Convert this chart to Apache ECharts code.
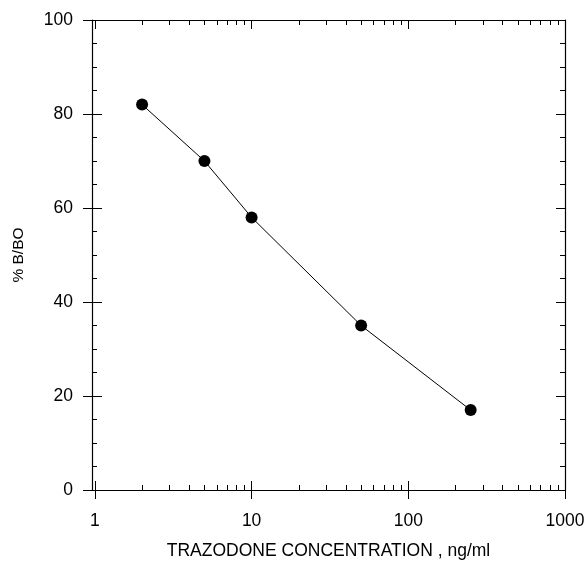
<!DOCTYPE html>
<html><head><meta charset="utf-8">
<script src="https://cdn.jsdelivr.net/npm/echarts@6/dist/echarts.min.js"></script>
<style>html,body{margin:0;padding:0;background:#fff}#c{width:587px;height:561px}</style>
</head><body><div id="c"></div>
<script>
const concentrations = [2, 5, 10, 50, 250];
const percentBBo = [82, 70, 58, 35, 17];
const xMajorTicks = [1, 10, 100, 1000];
const xMinorTicks = [2,3,4,5,6,7,8,9,20,30,40,50,60,70,80,90,200,300,400,500,600,700,800,900];

const FONT = 'Liberation Sans, Arial, sans-serif';
const XMIN = 0.958, XMAX = 1000;
const line = {show:true, lineStyle:{color:'#000', width:1.2}};
function xAx(o){
  return Object.assign({type:'log', logBase:10, min:XMIN, max:XMAX, position:'bottom',
    axisLine:{show:false}, splitLine:{show:false}, axisLabel:{show:false},
    axisTick:{show:false}}, o);
}
function yAx(o){
  return Object.assign({type:'value', min:0, max:100, interval:20, position:'left',
    axisLine:{show:false}, splitLine:{show:false}, axisLabel:{show:false},
    axisTick:{show:false}, minorTick:{show:false}}, o);
}
const chart = echarts.init(document.getElementById('c'));
chart.setOption({
  animation:false,
  backgroundColor:'#fff',
  grid:{left:92, right:22, top:20, bottom:71, containLabel:false, outerBoundsMode:'none'},
  xAxis:[
    xAx({axisLine:line,
      axisTick:{show:true, inside:false, length:9, customValues:xMajorTicks, lineStyle:{color:'#000',width:1}},
      axisLabel:{show:true, customValues:xMajorTicks, margin:22, color:'#000', fontSize:17.5, fontFamily:FONT,
        formatter:v=>String(Math.round(v))},
      name:'TRAZODONE CONCENTRATION , ng/ml', nameLocation:'middle', nameGap:52,
      nameTextStyle:{color:'#000', fontSize:17.5, fontFamily:FONT}}),
    xAx({axisTick:{show:true, inside:true, length:9, customValues:xMajorTicks, lineStyle:{color:'#000',width:1}}}),
    xAx({axisTick:{show:true, inside:true, length:5, customValues:xMinorTicks, lineStyle:{color:'#000',width:1}}}),
    xAx({position:'top', axisLine:line,
      axisTick:{show:true, inside:true, length:9, customValues:xMajorTicks, lineStyle:{color:'#000',width:1}}}),
    xAx({position:'top',
      axisTick:{show:true, inside:true, length:5, customValues:xMinorTicks, lineStyle:{color:'#000',width:1}}})
  ],
  yAxis:[
    yAx({axisLine:line,
      axisTick:{show:true, inside:false, length:9, lineStyle:{color:'#000',width:1}},
      axisLabel:{show:true, margin:19, color:'#000', fontSize:17.5, fontFamily:FONT},
      name:'% B/BO', nameLocation:'middle', nameGap:65, nameRotate:90,
      nameTextStyle:{color:'#000', fontSize:15.5, fontFamily:FONT}}),
    yAx({axisTick:{show:true, inside:true, length:10, lineStyle:{color:'#000',width:1}},
      minorTick:{show:true, splitNumber:4, length:5, lineStyle:{color:'#000',width:1}}}),
    yAx({position:'right', axisLine:line,
      axisTick:{show:true, inside:true, length:9, lineStyle:{color:'#000',width:1}},
      minorTick:{show:true, splitNumber:4, length:5, lineStyle:{color:'#000',width:1}}})
  ],
  series:[{
    type:'line', xAxisIndex:0, yAxisIndex:0,
    data: concentrations.map((c,i)=>[c, percentBBo[i]]),
    symbol:'circle', symbolSize:12,
    itemStyle:{color:'#000'}, lineStyle:{color:'#000', width:1}
  }]
});
</script></body></html>
